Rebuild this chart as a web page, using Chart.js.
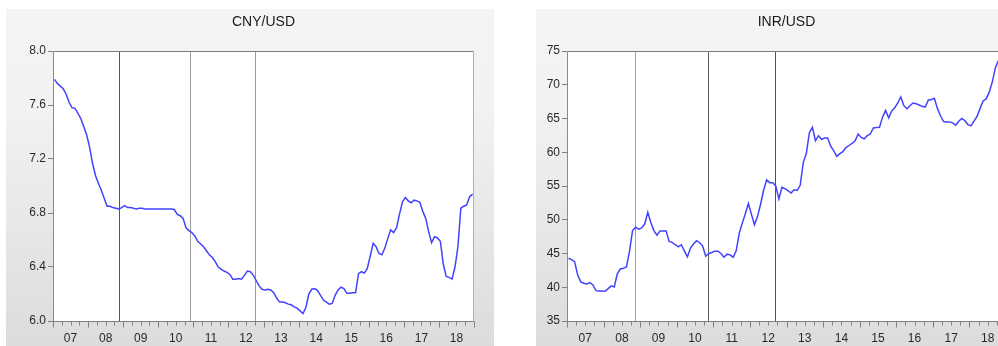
<!DOCTYPE html>
<html>
<head>
<meta charset="utf-8">
<script src="https://cdn.jsdelivr.net/npm/chart.js@4.4.1/dist/chart.umd.min.js"></script>
<style>
  html, body { margin: 0; padding: 0; background: #fff; overflow: hidden; width: 998px; height: 346px; }
  .panel { position: absolute; top: 9px; height: 337px;
           background: linear-gradient(to bottom, #f4f4f4 0%, #f2f2f2 30%, #dcdcdc 100%); }
  #p1 { left: 6px; width: 488px; }
  #p2 { left: 536px; width: 490px; }
  canvas { display: block; }
</style>
</head>
<body>
<div class="panel" id="p1"><canvas id="c1" width="488" height="337"></canvas></div>
<div class="panel" id="p2"><canvas id="c2" width="490" height="337"></canvas></div>
<script>
// Monthly exchange rates, Jan 2007 onward (index 0 = 2007M01)
const cnyUsd = [
  7.79, 7.76, 7.74, 7.72, 7.68, 7.62, 7.58, 7.575, 7.54, 7.50, 7.44, 7.38,
  7.29, 7.17, 7.08, 7.02, 6.97, 6.91, 6.85, 6.85, 6.84, 6.835, 6.83, 6.84,
  6.855, 6.84, 6.84, 6.835, 6.83, 6.835, 6.835, 6.83, 6.83, 6.83, 6.83, 6.83,
  6.83, 6.83, 6.83, 6.83, 6.83, 6.826, 6.79, 6.78, 6.76, 6.69, 6.67, 6.655,
  6.63, 6.59, 6.57, 6.55, 6.52, 6.49, 6.47, 6.44, 6.40, 6.385, 6.37, 6.36,
  6.345, 6.31, 6.31, 6.315, 6.31, 6.34, 6.37, 6.365, 6.34, 6.30, 6.26, 6.235,
  6.23, 6.235, 6.23, 6.21, 6.17, 6.14, 6.14, 6.135, 6.125, 6.12, 6.105, 6.095,
  6.075, 6.055, 6.10, 6.20, 6.235, 6.24, 6.225, 6.19, 6.155, 6.14, 6.125, 6.13,
  6.19, 6.23, 6.25, 6.24, 6.205, 6.205, 6.21, 6.21, 6.35, 6.365, 6.355, 6.39,
  6.48, 6.575, 6.55, 6.50, 6.49, 6.54, 6.61, 6.675, 6.655, 6.69, 6.79, 6.88,
  6.915, 6.89, 6.876, 6.895, 6.89, 6.88, 6.81, 6.76, 6.66, 6.58, 6.625, 6.615,
  6.59, 6.42, 6.33, 6.323, 6.31, 6.40, 6.55, 6.835, 6.85, 6.86, 6.92, 6.94
];
const inrUsd = [
  44.3, 44.1, 43.8, 41.8, 40.8, 40.6, 40.5, 40.7, 40.35, 39.5, 39.45, 39.45,
  39.4, 39.8, 40.2, 40.05, 42.0, 42.7, 42.8, 43.0, 45.3, 48.4, 48.9, 48.6,
  48.8, 49.4, 51.1, 49.6, 48.4, 47.7, 48.35, 48.35, 48.35, 46.8, 46.65, 46.3,
  46.0, 46.3, 45.4, 44.5, 45.8, 46.4, 46.9, 46.6, 46.1, 44.6, 45.0, 45.15,
  45.35, 45.35, 45.0, 44.45, 44.9, 44.8, 44.45, 45.4, 48.0, 49.5, 50.9, 52.4,
  50.8, 49.25, 50.5, 52.3, 54.4, 55.9, 55.5, 55.5, 55.0, 53.1, 54.8, 54.6,
  54.3, 53.95, 54.45, 54.35, 55.1, 58.5, 59.8, 62.9, 63.7, 61.7, 62.45, 61.9,
  62.1, 62.1, 60.9, 60.2, 59.4, 59.8, 60.1, 60.7, 61.0, 61.3, 61.7, 62.7,
  62.2, 62.0, 62.45, 62.7, 63.6, 63.65, 63.7, 65.2, 66.2, 65.1, 66.1, 66.6,
  67.3, 68.2, 66.9, 66.45, 66.9, 67.3, 67.2, 67.0, 66.8, 66.7, 67.7, 67.8,
  68.0, 66.5, 65.4, 64.55, 64.5, 64.5, 64.35, 64.0, 64.6, 65.0, 64.7, 64.1,
  63.9, 64.6, 65.3, 66.5, 67.6, 67.9, 68.9, 70.4, 72.5, 73.6
];
// Axis span in months (2007M01 through 2018M12) and first year of the sample
const monthSpan = 144;
const firstYear = 2007;
// Months (from Jan 2007) of the marked policy announcements
const eventMonthsCny = [22.6, 47.0, 69.1];
const eventMonthsInr = [22.4, 46.3, 68.3];
const cnyTicks = [6.0, 6.4, 6.8, 7.2, 7.6, 8.0];
const inrTicks = [35, 40, 45, 50, 55, 60, 65, 70, 75];

const FONT = "'Liberation Sans', Arial, sans-serif";

// White plot area, frame, event lines and quarterly tick marks on the library's scales
const framePlugin = {
  id: 'frame',
  beforeDraw(chart) {
    const { ctx, chartArea: a } = chart;
    ctx.save();
    ctx.fillStyle = '#ffffff';
    ctx.fillRect(a.left, a.top, a.right - a.left, a.bottom - a.top);
    ctx.restore();
  },
  beforeDatasetsDraw(chart, args, opts) {
    const { ctx, chartArea: a, scales: { x } } = chart;
    ctx.save();
    ctx.lineWidth = 1;
    opts.events.forEach((m, k) => {
      const px = Math.round(x.getPixelForValue(m)) + 0.5;
      ctx.strokeStyle = opts.eventColors[k];
      ctx.beginPath();
      ctx.moveTo(px, a.top);
      ctx.lineTo(px, a.bottom);
      ctx.stroke();
    });
    ctx.restore();
  },
  afterDatasetsDraw(chart) {
    const { ctx, chartArea: a, scales: { x } } = chart;
    ctx.save();
    ctx.lineWidth = 1;
    const L = Math.round(a.left) + 0.5, R = Math.round(a.right) - 0.5;
    const T = Math.round(a.top) + 0.5, B = Math.round(a.bottom) + 0.5;
    const seg = (c, x1, y1, x2, y2) => {
      ctx.strokeStyle = c; ctx.beginPath(); ctx.moveTo(x1, y1); ctx.lineTo(x2, y2); ctx.stroke();
    };
    seg('#7a7a7a', L, T, R, T);
    seg('#b0b0b0', R, T, R, B);
    seg('#8a8a8a', L, T, L, B);
    seg('#808080', L - 0.5, B, R, B);
    for (let v = 0; v <= monthSpan; v += 3) {
      const px = Math.round(x.getPixelForValue(v)) + 0.5;
      const len = v % 12 === 0 ? 6 : 4;
      seg('#808080', px, B, px, B + len);
    }
    ctx.restore();
  }
};

function makeChart(id, series, yTicks, events, eventColors, title, yWidth) {
  const yMin = yTicks[0], yMax = yTicks[yTicks.length - 1];
  const step = yTicks[1] - yTicks[0];
  const decimals = Number.isInteger(step) ? 0 : 1;
  return new Chart(document.getElementById(id), {
    type: 'line',
    data: {
      datasets: [{
        data: series.map((v, i) => ({ x: i + 0.5, y: v })),
        borderColor: 'rgb(66,66,255)',
        borderWidth: 1.5,
        pointRadius: 0,
        tension: 0,
        fill: false
      }]
    },
    options: {
      responsive: false,
      animation: false,
      layout: { padding: { top: 0, right: 20, bottom: 0, left: 0 } },
      plugins: {
        legend: { display: false },
        tooltip: { enabled: false },
        title: {
          display: true,
          text: title,
          fullSize: false,
          color: '#1a1a1a',
          font: { family: FONT, size: 14, weight: 'normal', lineHeight: 1.2 },
          padding: { top: 5, bottom: 20.2 }
        },
        frame: { events: events, eventColors: eventColors }
      },
      scales: {
        x: {
          type: 'linear',
          min: 0,
          max: monthSpan,
          afterBuildTicks(scale) {
            const t = [];
            for (let v = 0; v <= monthSpan; v += 3) t.push({ value: v });
            scale.ticks = t;
          },
          afterFit(scale) { scale.height = 25; },
          grid: { display: true, drawOnChartArea: false, drawTicks: false },
          border: { display: false },
          ticks: {
            autoSkip: false,
            maxRotation: 0,
            padding: 10,
            color: '#2a2a2a',
            font: { family: FONT, size: 12 },
            callback: (v) => v % 12 === 6
              ? String((firstYear + Math.floor(v / 12)) % 100).padStart(2, '0') : ''
          }
        },
        y: {
          min: yMin,
          max: yMax,
          afterBuildTicks(scale) { scale.ticks = yTicks.map(v => ({ value: v })); },
          afterFit(scale) { scale.width = yWidth; },
          grid: { display: true, drawOnChartArea: false, drawTicks: true, tickLength: 5, tickColor: '#808080' },
          border: { display: false },
          ticks: {
            padding: 2,
            color: '#2a2a2a',
            font: { family: FONT, size: 12 },
            callback: (v) => Number(v).toFixed(decimals)
          }
        }
      }
    },
    plugins: [framePlugin]
  });
}

makeChart('c1', cnyUsd, cnyTicks, eventMonthsCny, ['#555555', '#9a9a9a', '#9a9a9a'], 'CNY/USD', 47);
makeChart('c2', inrUsd, inrTicks, eventMonthsInr, ['#a0a0a0', '#606060', '#505050'], 'INR/USD', 31);
</script>
</body>
</html>
